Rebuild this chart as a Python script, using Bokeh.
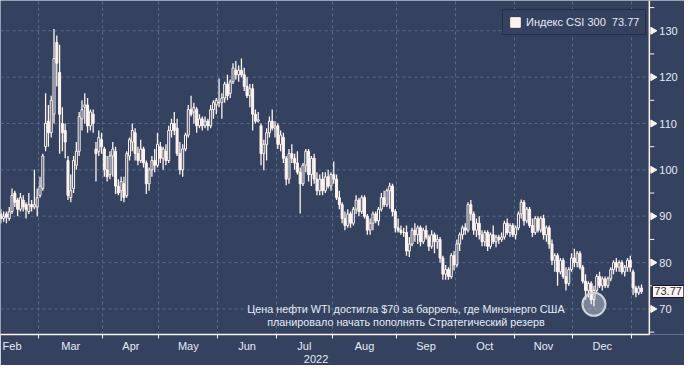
import math
from bokeh.plotting import figure
from bokeh.models import Range1d, FixedTicker, Label, Legend, LegendItem, LinearAxis
from bokeh.core.properties import value
from bokeh.embed import file_html
from bokeh.resources import INLINE

BG = "#344260"
FG = "#fdf3ef"
GRID = "#556b92"
TXT = "#e4eaf5"
FONT = "Liberation Sans"

# trading-day index of month starts (Feb 2022 .. Jan 2023)
month_starts = [-5.5, 13.5, 36.5, 56.5, 77.5, 98.5, 118.5, 141.5, 162.5, 183.5, 204.5, 225.5]
month_names = ["Feb", "Mar", "Apr", "May", "Jun", "Jul", "Aug", "Sep", "Oct", "Nov", "Dec"]
year_label = "2022"
y_ticks = [70, 80, 90, 100, 110, 120, 130]
y_minor = [65, 75, 85, 95, 105, 115, 125, 135]

opens = [
    90.5, 89.5, 90.5, 89.5, 91, 95, 93.5, 91.5, 93.5, 92.5,
    91, 92.5, 92, 92, 94.5, 96, 105, 110.5, 108, 112,
    127.5, 121, 110, 108.5, 102, 94, 96, 101, 104, 111,
    113.5, 114, 109.5, 112, 104.5, 104, 106.5, 104.5, 100, 99,
    103, 104, 96.5, 95.5, 97, 94.5, 103, 106, 108, 103.5,
    102, 104.5, 101.5, 97, 100, 102, 101, 105, 102.5, 104,
    102, 108.5, 110, 109, 103.5, 100, 104.5, 107.5, 113, 112.5,
    113, 109.5, 111, 109.5, 110.5, 109.5, 113, 114, 114.5, 114.5,
    115.5, 118.5, 116.5, 119, 121.5, 120.5, 121.5, 120.5, 118, 116,
    117.5, 112, 110.5, 109.5, 103.5, 105.5, 108, 110.5, 109, 109.5,
    105.5, 107, 102.5, 98, 103.5, 102.5, 101.5, 99.5, 97, 101,
    104, 99, 102.5, 98, 95.5, 98, 95.5, 98.5, 96.5, 99,
    98, 94, 92.5, 89.5, 88, 90.5, 88.5, 91.5, 93.5, 91,
    94, 90, 87, 88.5, 90.5, 89, 91.5, 94, 92.5, 95.5,
    96.5, 91, 87.5, 87, 86.5, 86.5, 82.5, 84, 87, 86,
    87.5, 84.5, 87, 85.5, 83.5, 86, 84.5, 85, 81, 77.5,
    78.5, 77, 81.5, 79.5, 84, 86, 87.5, 87, 92.5, 90.5,
    87, 88.5, 86, 84.5, 86.5, 83.5, 86, 84.5, 85.5, 85,
    85.5, 88.5, 86.5, 88, 86, 87.5, 90.5, 93, 89, 91.5,
    88, 86.5, 89.5, 87, 89.5, 86, 87.5, 84, 80.5, 81.5,
    78, 80.5, 77, 75.5, 78.5, 81, 80, 82, 79, 76,
    74, 75.5, 72, 74, 77, 75, 76.5, 75, 76.5, 78.5,
    80, 79, 80, 78, 79, 80.5, 78, 74.5, 73.5, 74.5,
]
highs = [
    91.5, 91, 91, 92, 96, 95.5, 94, 95, 94.5, 93,
    95, 93.5, 100, 96, 98.5, 103.5, 116.5, 114, 116, 130.4,
    129, 127, 113.5, 110, 103, 99, 103, 106, 112.5, 115,
    116.5, 115.5, 113, 113, 106, 108.5, 108, 105, 103, 104,
    106, 105, 98, 98.5, 98.5, 104, 107, 110, 109, 105,
    106.5, 105, 102, 100.5, 103, 104.5, 108, 106, 105, 105.5,
    109.5, 111, 112.5, 111, 106, 105.5, 108, 114, 116, 114.5,
    113.5, 112, 111.5, 111.5, 111, 114, 115, 115.5, 119.7, 116.5,
    119, 120.5, 119.5, 123, 123.5, 122.5, 124, 122, 120, 118.5,
    118.5, 113, 112.5, 110, 106.5, 109, 111.5, 113, 110.5, 110,
    108.5, 108, 103, 104.5, 105.5, 103.5, 104, 100.5, 101.5, 104.5,
    104.5, 103, 103.5, 99.5, 99, 99.5, 99.5, 100, 99.5, 101.8,
    99, 95.5, 93, 91, 91.5, 91, 92, 94.5, 94, 94.5,
    94.5, 90.5, 89.5, 91, 91, 92, 95, 95.5, 96, 97.2,
    97, 91.5, 89.5, 88, 87.5, 88, 85.5, 87.5, 88.5, 88,
    88, 87.5, 88, 86, 87, 86.5, 86, 85.5, 81.5, 79.5,
    79, 82, 82.5, 85, 86.5, 88, 88.5, 93, 93.5, 91,
    89.5, 90, 87, 87, 87, 86.5, 88, 86, 86, 86.5,
    89, 89.5, 88.5, 88.5, 88, 91, 93.6, 93.5, 92, 92,
    89.5, 90, 90, 90, 90.3, 88, 88, 85, 82, 82,
    81, 81, 79, 79, 82, 83, 82.5, 82.5, 79.5, 77.5,
    76, 76, 75, 77.5, 78, 77, 77, 77, 79, 80.5,
    81, 80.5, 80.5, 79.5, 81, 81.5, 78.5, 75, 75, 75.3,
]
lows = [
    88.5, 88.8, 88.5, 89, 90.5, 92, 90, 91, 91, 89.5,
    90.5, 91, 91.5, 90, 94, 95.5, 104, 105, 107, 110,
    118, 103.5, 104, 102.5, 93.5, 93, 95, 100, 103, 108.5,
    110, 108, 108.5, 108, 97.5, 103, 103.5, 98.5, 97.5, 98,
    98.5, 94.8, 94.5, 93.3, 93, 94, 102, 104, 102, 101,
    101.5, 100.5, 94.8, 95.5, 98.5, 99.5, 100.5, 101.5, 100, 101,
    101.5, 107, 107.5, 103, 99, 98.5, 104, 107, 111.5, 110,
    108, 109, 108.5, 109, 108.5, 109, 111, 112, 113.5, 111,
    114.5, 115, 115.5, 118.5, 119.5, 119, 120, 117, 115.5, 113.5,
    108.5, 110, 110.2, 101, 99.9, 102, 107, 108.5, 107, 104.5,
    104, 101.5, 96.7, 97, 101.5, 100, 99, 90.6, 96.5, 99.5,
    97.5, 96.5, 97, 94.5, 94.5, 94.5, 95, 96, 95.5, 97,
    93.5, 91.5, 88.5, 87, 87.5, 87.5, 88, 90.5, 90, 90.5,
    89.5, 86, 86, 87, 88.5, 88, 91, 92, 92, 91.6,
    90, 86.5, 86.5, 86, 85.5, 81.5, 81.2, 83.5, 84.5, 84,
    83.5, 84, 85, 82.5, 83, 82, 83, 80, 76.3, 76.3,
    76.3, 76.5, 78.3, 79, 82.5, 85, 86, 86.5, 89, 86,
    85.5, 85, 83.5, 83.5, 82.5, 83, 84, 83.3, 84, 84.5,
    85, 86, 85.5, 85.5, 85, 87, 89.5, 88, 88.5, 87.5,
    85.5, 86, 86.5, 86.5, 85, 84.5, 83, 79.5, 78, 75,
    77.5, 76.5, 74, 75, 78, 79, 79, 78.5, 75.5, 72,
    72.5, 71, 70.6, 73.5, 74.5, 74, 74.5, 74.5, 76, 77.5,
    78, 78, 77.5, 77, 78, 78, 73, 72.5, 73, 73.3,
]
closes = [
    89.5, 90, 89.8, 91, 94.5, 93, 91.5, 94, 92, 91.5,
    92.5, 92, 92.5, 94, 96.5, 103, 110, 108, 115, 124,
    123, 112, 108, 106, 94.5, 95.5, 102, 104, 111.5, 113,
    114, 109.5, 112.5, 110, 103.5, 107, 105, 100, 98.5, 103,
    104.5, 96.5, 95, 97.5, 94, 103.5, 106.5, 108.5, 103.5, 102,
    104.5, 101.5, 97, 100, 102, 101, 105.5, 102.5, 104.5, 102,
    108.5, 110, 108.5, 103.5, 100, 104.5, 107.5, 113, 112, 113.5,
    109.5, 111, 109.5, 110.5, 109.5, 113, 114.5, 115, 114.5, 115.5,
    118.5, 116, 119, 122, 120.5, 121.5, 120.5, 118, 116, 117.5,
    112, 110.5, 110.8, 103.5, 105.5, 108, 110.5, 109, 109.5, 105.5,
    107.5, 102.5, 98, 103.5, 102.5, 101.5, 99.5, 97, 101, 104,
    99, 102.5, 98, 95.5, 98, 95.5, 98.5, 96.5, 99, 98,
    94, 92.5, 89.5, 88, 90.5, 88.5, 91.5, 93.5, 91, 94,
    90, 87, 88.5, 90.5, 89, 91.5, 94, 92.5, 95.5, 96.5,
    91, 87.5, 87, 86.5, 86.5, 82.5, 84, 87, 86, 87.5,
    84.5, 87, 85.5, 83.5, 86, 84.5, 85, 81, 77.5, 78.5,
    77, 81.5, 79.5, 84, 86, 87.5, 87, 92.5, 90.5, 87,
    88.5, 86, 84.5, 86.5, 83.5, 86, 84.5, 85.5, 85, 85.5,
    88.5, 86.5, 88, 86, 87.5, 90.5, 93, 89, 91.5, 88,
    86.5, 89.5, 87, 89.5, 86, 87.5, 84, 80.5, 81.5, 78,
    80.5, 77, 75.5, 78.5, 81, 80, 82, 79, 76, 74,
    75.5, 72, 74, 77, 75, 76.5, 75, 76.5, 78.5, 80,
    79, 80, 78, 79, 80.5, 79, 74.5, 73.5, 74.5, 73.77,
]
assert len(opens) == len(highs) == len(lows) == len(closes) == 230

event_day = 212
note_lines = [
    "Цена нефти WTI достигла $70 за баррель, где Минэнерго США",
    "планировало начать пополнять Стратегический резерв",
]
series_name = "Индекс CSI 300"

days = list(range(len(closes)))
body_top = [max(o, c) for o, c in zip(opens, closes)]
body_bot = [min(o, c) for o, c in zip(opens, closes)]
body_fill = [BG if c > o else FG for o, c in zip(opens, closes)]

# ranges: x in trading days, y in index points
X0, X1 = -0.122, 244.37
Y0, Y1 = 64.49, 136.53
X_AXIS = 231.8           # where the price scale sits
PX = (X1 - X0) / 684.0   # data units per pixel (x)

FW, FH = 684, 334
p = figure(frame_width=FW, frame_height=FH,
           x_range=Range1d(X0, X1), y_range=Range1d(Y0, Y1),
           y_axis_location=None, output_backend="svg", toolbar_location=None,
           background_fill_color=BG, border_fill_color=BG, outline_line_color=None,
           min_border_left=0, min_border_top=0, min_border_right=0, min_border_bottom=0)

# horizontal dashed grid up to the price scale
n = len(y_ticks)
p.segment(x0=[X0] * n, y0=y_ticks, x1=[X_AXIS] * n, y1=y_ticks,
          line_color=GRID, line_dash="3 3", line_width=1)

# candles
p.segment(x0=days, y0=lows, x1=days, y1=highs, line_color=FG, line_width=1.3)
bodies = p.vbar(x=days, width=0.72, top=body_top, bottom=body_bot,
                fill_color=body_fill, line_color=FG, line_width=1)

# highlight circle
p.scatter(x=[event_day], y=[lows[event_day] + 0.4], size=23, fill_color="white",
          fill_alpha=0.35, line_color="#cfd3dc", line_width=2)

# price scale on the right (line, arrow ticks, minor ticks, labels)
p.segment(x0=[X_AXIS], y0=[Y0], x1=[X_AXIS], y1=[Y1], line_color=FG, line_width=1.5)
p.scatter(x=[X_AXIS + 3.5 * PX] * n, y=y_ticks, marker="triangle", angle=-math.pi / 2,
          size=7, fill_color=FG, line_color=FG)
m = len(y_minor)
p.segment(x0=[X_AXIS] * m, y0=y_minor, x1=[X_AXIS + 5 * PX] * m, y1=y_minor,
          line_color=FG, line_width=1)
p.text(x=[X_AXIS + 10 * PX] * n, y=y_ticks, text=[str(t) for t in y_ticks],
       text_align="left", text_baseline="middle", text_font=value(FONT),
       text_font_size="11px", text_color=TXT)

# month axis
mids = [(a + b) / 2 for a, b in zip(month_starts[:-1], month_starts[1:])]
xa = p.xaxis[0]
xa.bounds = (X0, X_AXIS)
xa.ticker = FixedTicker(ticks=mids, minor_ticks=month_starts)
xa.major_label_overrides = {mm: nm for mm, nm in zip(mids, month_names)}
xa.major_tick_out = 0
xa.major_tick_in = 0
xa.minor_tick_out = 4
xa.minor_tick_in = 0
xa.minor_tick_line_color = FG
xa.axis_line_color = FG
xa.axis_line_width = 1.5
xa.major_label_standoff = 1
xa.major_label_text_color = TXT
xa.major_label_text_font = FONT
xa.major_label_text_font_size = "11px"

# year row
year_mid = (X0 + month_starts[-1]) / 2
ya = LinearAxis(ticker=FixedTicker(ticks=[year_mid]),
                major_label_overrides={year_mid: year_label},
                axis_line_color=None, major_tick_out=0, major_tick_in=0,
                minor_tick_out=0, minor_tick_in=0, major_label_standoff=0,
                major_label_text_color=TXT, major_label_text_font=FONT,
                major_label_text_font_size="11px")
p.add_layout(ya, "below")

p.xgrid.ticker = FixedTicker(ticks=month_starts)
p.xgrid.grid_line_color = GRID
p.xgrid.grid_line_dash = "3 3"
p.xgrid.grid_line_width = 1
for g in p.ygrid:
    g.visible = False

# legend
first_down = next(i for i in days if closes[i] <= opens[i])
legend = Legend(items=[LegendItem(label=f"{series_name}\u00a0\u00a0{closes[-1]:.2f}",
                                  renderers=[bodies], index=first_down)],
                location=(502, 299), padding=6, margin=0, spacing=0,
                glyph_width=12, glyph_height=12, label_height=12, label_standoff=5,
                label_text_color=TXT, label_text_font=FONT, label_text_font_size="11px",
                background_fill_color=BG, background_fill_alpha=1.0,
                border_line_color="#141a28", border_line_width=1.5)
p.add_layout(legend)

# last value tag
p.add_layout(Label(x=X_AXIS + 3 * PX, y=closes[-1], text=f"{closes[-1]:.2f}", text_align="left",
                   text_baseline="middle", text_font=FONT, text_font_size="11px",
                   text_color="#1f2a44", background_fill_color=FG,
                   border_line_color="#111827", border_line_width=1, padding=2))

# note
for k, line in enumerate(note_lines):
    p.add_layout(Label(x=144.8, y=70.0 - 2.86 * k, text=line, text_align="center",
                       text_baseline="middle", text_font=FONT, text_font_size="10.8px",
                       text_color=TXT))

open("out.html", "w").write(file_html(p, INLINE))
